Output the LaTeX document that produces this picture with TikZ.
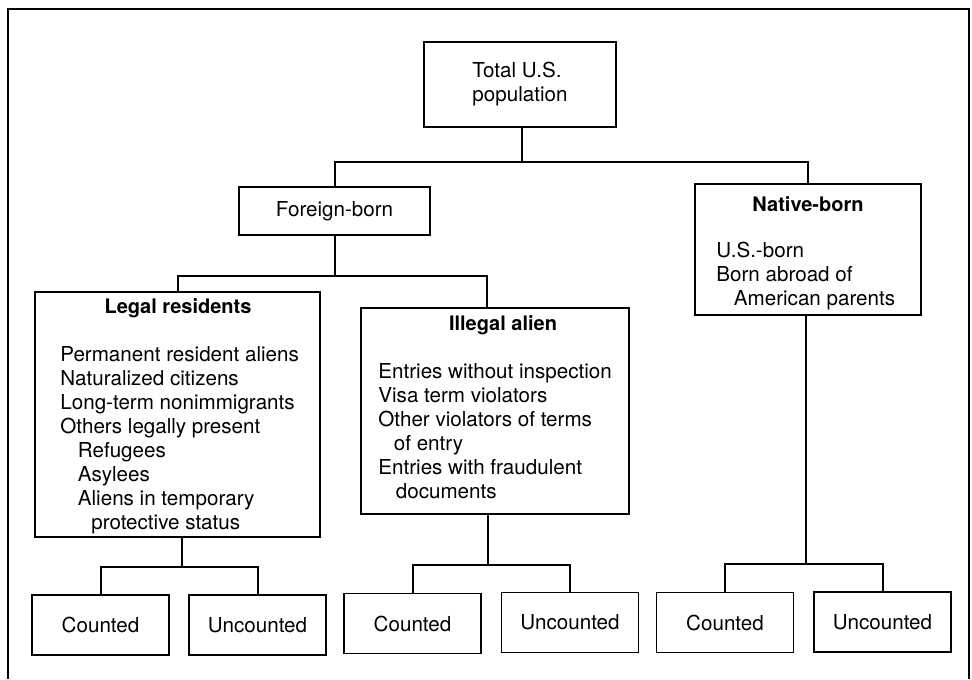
\documentclass[tikz,border=0pt]{standalone}
\usepackage{fontspec}
\setmainfont{TeX Gyre Heros}
\usetikzlibrary{positioning}

\tikzset{
    box/.style={draw, line width=0.7pt, rectangle, inner sep=0pt},
    countbox/.style={box, minimum width=68.5pt, minimum height=30pt},
    title/.style={anchor=base, inner sep=0pt, font=\bfseries},
    list/.style={anchor=base west, inner sep=0pt, align=left},
    wire/.style={line width=1pt}
}

\begin{document}
\begin{tikzpicture}[x=0.5pt, y=-0.5pt, font=\fontsize{10.3}{12}\selectfont]
            \useasboundingbox (0,0) rectangle (972,679);
            \draw[line width=0.8pt] (8,679) -- (8,9) -- (969,9) -- (969,679);

            \node[box, minimum width=96pt, minimum height=42.5pt, align=left] (total) at (520,84.5) {Total U.S.\\population};
            \node[box, minimum width=95.5pt, minimum height=24pt] (foreign) at (334.5,211) {Foreign-born};
            \node[box, minimum width=113pt, minimum height=65.5pt] (native) at (808,249.5) {};
            \node[box, minimum width=142.5pt, minimum height=122.5pt] (legal) at (177.5,414.5) {};
            \node[box, minimum width=134pt, minimum height=103pt] (illegal) at (495,411) {};

            \node[title] (nativeT) at (808,212) {Native-born};
            \node[list] (nativeL) at (716,305) {U.S.-born\\Born abroad of\\\hspace*{0.85em}American parents};
            \node[title] (legalT) at (178,313) {Legal residents};
            \node[list] (legalL) at (60,529) {Permanent resident aliens\\Naturalized citizens\\Long-term nonimmigrants\\Others legally present\\
                \hspace*{0.85em}Refugees\\\hspace*{0.85em}Asylees\\\hspace*{0.85em}Aliens in temporary\\\hspace*{1.5em}protective status};
            \node[title] (illegalT) at (503,330) {Illegal alien};
            \node[list] (illegalL) at (378,498) {Entries without inspection\\Visa term violators\\Other violators of terms\\
                \hspace*{0.75em}of entry\\Entries with fraudulent\\\hspace*{0.85em}documents};

            \node[countbox] (legalC) at (100.5,625) {Counted};
            \node[countbox] (legalU) at (257.5,625) {Uncounted};
            \node[countbox] (illegalC) at (412.5,623.5) {Counted};
            \node[countbox] (illegalU) at (570,622.5) {Uncounted};
            \node[countbox] (nativeC) at (725,622.5) {Counted};
            \node[countbox] (nativeU) at (882.5,622) {Uncounted};

            \coordinate (busT) at (522,162);
            \coordinate (busF) at (335,276);
            \coordinate (busL) at (182,567);
            \coordinate (busI) at (488,565);
            \coordinate (busN) at (806,564);

            \draw[wire] (total.south -| busT) -- (busT);
            \draw[wire] (foreign.north) |- (busT) -| (native.north);
            \draw[wire] (foreign.south -| busF) -- (busF);
            \draw[wire] (legal.north) |- (busF) -| ([xshift=-4pt]illegal.north);
            \draw[wire] (legal.south -| busL) -- (busL);
            \draw[wire] (legalC.north) |- (busL) -| (legalU.north);
            \draw[wire] (illegal.south -| busI) -- (busI);
            \draw[wire] (illegalC.north) |- (busI) -| (illegalU.north);
            \draw[wire] (native.south -| busN) -- (busN);
            \draw[wire] (nativeC.north) |- (busN) -| (nativeU.north);
        \end{tikzpicture}
\end{document}
